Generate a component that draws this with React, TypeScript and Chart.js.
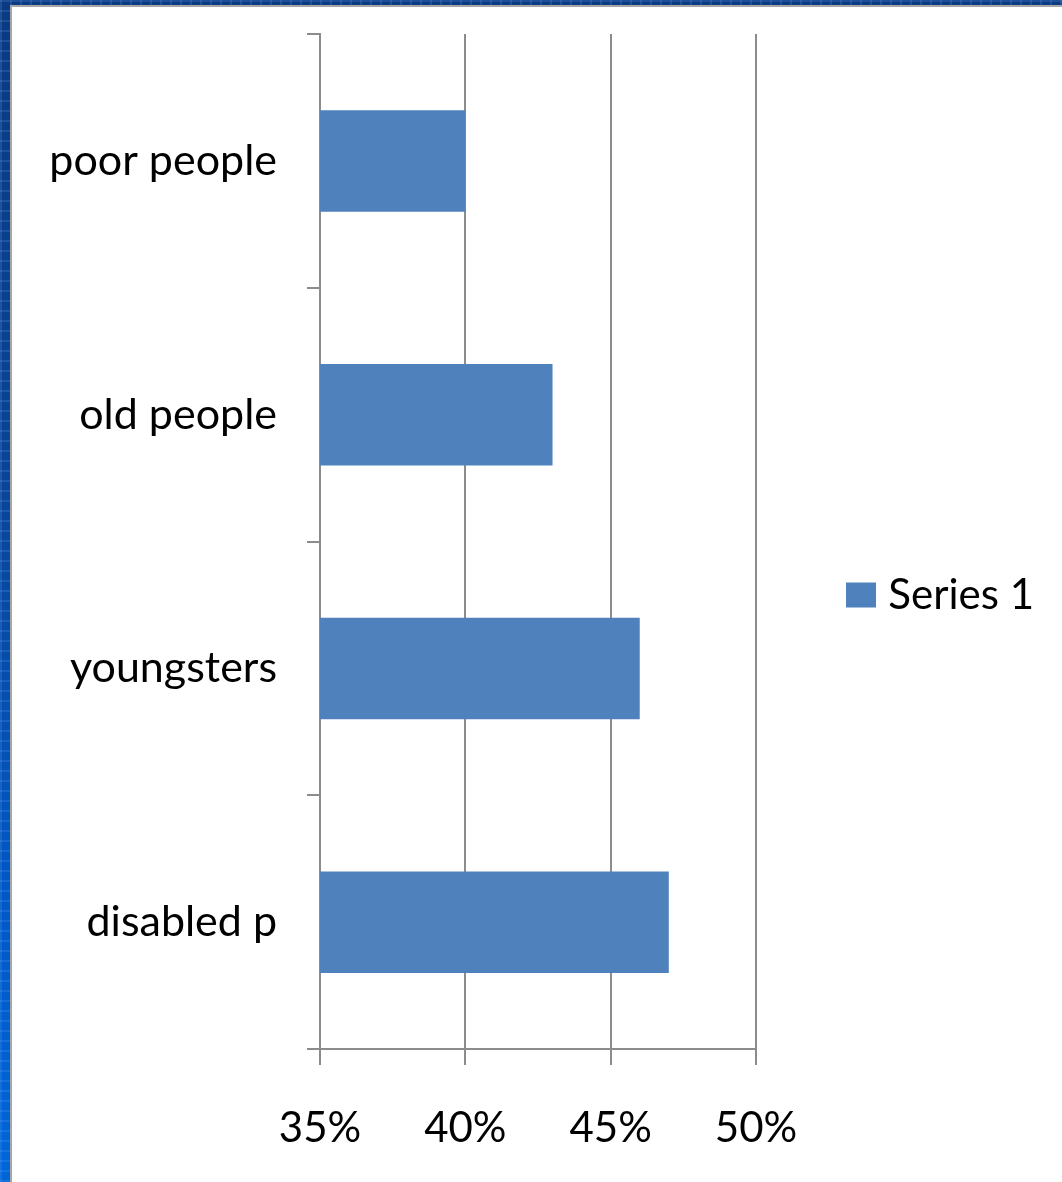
import React, { useEffect, useRef } from "react";
import { Chart, registerables } from "chart.js";

Chart.register(...registerables);

const categories = ["poor people", "old people", "youngsters", "disabled p"];
const seriesName = "Series 1";
const seriesValues = [40, 43, 46, 47];
const xMin = 35;
const xMax = 50;
const xStep = 5;

const FONT = "Lato, 'Open Sans', sans-serif";
const GRID = "#8c8c8c";
const BAR = "#4f81bd";

const legendWidthPlugin = {
  id: "legendWidth",
  beforeLayout(chart: any) {
    const lg = chart.legend;
    if (lg && !lg.__patched) {
      const fit = lg.fit.bind(lg);
      lg.fit = () => {
        fit();
        lg.width = 278;
      };
      lg.__patched = true;
    }
  },
};

export default function App() {
  const ref = useRef<HTMLCanvasElement | null>(null);

  useEffect(() => {
    if (!ref.current) return;
    const chart = new Chart(ref.current, {
      type: "bar",
      data: {
        labels: categories,
        datasets: [
          {
            label: seriesName,
            data: seriesValues,
            backgroundColor: BAR,
            borderWidth: 0,
            barPercentage: 0.8,
            categoryPercentage: 0.5,
          },
        ],
      },
      options: {
        indexAxis: "y",
        animation: false,
        responsive: false,
        maintainAspectRatio: false,
        layout: { padding: { left: 40, top: 34, bottom: 26, right: 28 } },
        plugins: {
          legend: {
            position: "right",
            labels: {
              color: "#000",
              font: { family: FONT, size: 42 },
              boxWidth: 30,
              boxHeight: 25,
              padding: 90,
              textAlign: "right",
            },
          },
          tooltip: { enabled: false },
        },
        scales: {
          x: {
            type: "linear",
            min: xMin,
            max: xMax,
            afterFit: (s: any) => {
              s.height = 107;
            },
            grid: {
              color: GRID,
              lineWidth: 2,
              tickLength: 16,
              drawOnChartArea: true,
            },
            border: { display: true, color: GRID, width: 2 },
            ticks: {
              stepSize: xStep,
              color: "#000",
              font: { family: FONT, size: 42 },
              padding: 38,
              callback: (v: any) => v + "%",
            },
          },
          y: {
            type: "category",
            afterFit: (s: any) => {
              s.width = 280;
              s.paddingTop = 0;
              s.paddingBottom = 0;
            },
            grid: {
              color: GRID,
              lineWidth: 2,
              tickLength: 13,
              drawOnChartArea: false,
              offset: true,
            },
            border: { display: true, color: GRID, width: 2 },
            ticks: {
              color: "#000",
              font: { family: FONT, size: 43 },
              padding: 30,
            },
          },
        },
      },
      plugins: [legendWidthPlugin],
    });
    return () => chart.destroy();
  }, []);

  return (
    <div
      style={{
        position: "relative",
        width: 1062,
        height: 1182,
        overflow: "hidden",
        background:
          "repeating-linear-gradient(90deg, rgba(120,170,255,0.18) 0 2px, transparent 2px 10px), repeating-linear-gradient(0deg, rgba(120,170,255,0.18) 0 2px, transparent 2px 10px), linear-gradient(to bottom, #0a3a80 0%, #0a4496 40%, #0058c4 75%, #0066d8 100%)",
      }}
    >
      <style>{"body{margin:0}"}</style>
      <div
        style={{
          position: "absolute",
          left: 10,
          top: 5,
          right: 0,
          bottom: 0,
          background: "#fff",
          borderLeft: "2px solid #a6a6a6",
          borderTop: "2px solid #a6a6a6",
        }}
      />
      <canvas
        ref={ref}
        width={1062}
        height={1182}
        style={{ position: "absolute", left: 0, top: 0, width: 1062, height: 1182 }}
      />
    </div>
  );
}
